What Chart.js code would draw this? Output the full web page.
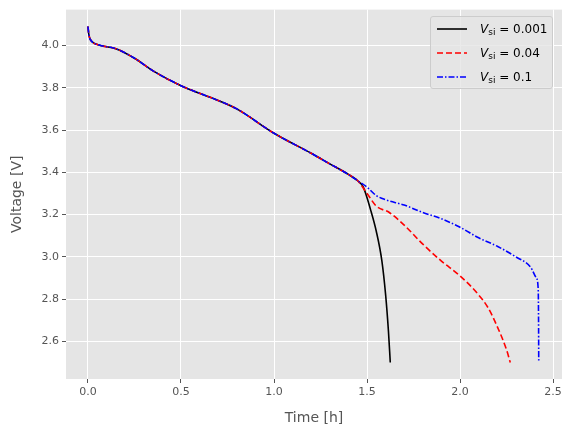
<!DOCTYPE html>
<html>
<head>
<meta charset="utf-8">
<script src="https://cdn.jsdelivr.net/npm/chart.js@4"></script>
<style>
  body { margin: 0; background: #fff; }
  #wrap { position: relative; width: 574px; height: 436px; }
  #legend {
    position: absolute; left: 430px; top: 16px; width: 123px; height: 73px;
    background: rgba(229,229,229,0.8); border: 1px solid #ccc; border-radius: 3px;
    font-family: "DejaVu Sans", sans-serif; font-size: 12px; color: #000; box-sizing: border-box;
  }
  .item { position: absolute; left: 6px; height: 20px; display: flex; align-items: center; }
  .item svg { margin-right: 13px; }
  sub { font-size: 9px; vertical-align: -2px; }
</style>
</head>
<body>
<div id="wrap">
  <canvas id="c" width="574" height="436"></canvas>
  <div id="legend">
    <div class="item" style="top:2px"><svg width="30" height="4"><line x1="0" y1="2" x2="30" y2="2" stroke="#000" stroke-width="1.6"/></svg><span><i>V</i><sub>si</sub> = 0.001</span></div>
    <div class="item" style="top:26px"><svg width="30" height="4"><line x1="0" y1="2" x2="30" y2="2" stroke="red" stroke-width="1.6" stroke-dasharray="6,3"/></svg><span><i>V</i><sub>si</sub> = 0.04</span></div>
    <div class="item" style="top:50px"><svg width="30" height="4"><line x1="0" y1="2" x2="30" y2="2" stroke="blue" stroke-width="1.6" stroke-dasharray="6,2,1.5,2"/></svg><span><i>V</i><sub>si</sub> = 0.1</span></div>
  </div>
</div>
<script>
// shared early part of discharge
const tCommon = [0, 0.005, 0.02, 0.05, 0.15, 0.25, 0.35, 0.5, 0.7, 0.8, 1.0, 1.2, 1.3, 1.4, 1.45];
const vCommon = [4.09, 4.05, 4.02, 4.005, 3.985, 3.94, 3.88, 3.81, 3.74, 3.70, 3.585, 3.49, 3.44, 3.39, 3.36];

const tBlack = [1.48, 1.52, 1.55, 1.58, 1.60, 1.615, 1.625];
const vBlack = [3.33, 3.22, 3.12, 2.98, 2.82, 2.65, 2.50];

const tRed = [1.5, 1.55, 1.62, 1.7, 1.8, 1.9, 2.0, 2.1, 2.15, 2.2, 2.25, 2.27];
const vRed = [3.30, 3.24, 3.21, 3.15, 3.06, 2.98, 2.91, 2.82, 2.76, 2.67, 2.56, 2.50];

const tBlue = [1.5, 1.55, 1.6, 1.7, 1.8, 1.9, 2.0, 2.1, 2.2, 2.3, 2.38, 2.41, 2.42, 2.422, 2.423];
const vBlue = [3.33, 3.29, 3.27, 3.245, 3.21, 3.18, 3.14, 3.09, 3.05, 3.00, 2.95, 2.90, 2.85, 2.70, 2.50];

const xTicks = [0, 0.5, 1.0, 1.5, 2.0, 2.5];
const yTicks = [2.6, 2.8, 3.0, 3.2, 3.4, 3.6, 3.8, 4.0];

function pts(t1, v1, t2, v2) {
    return t1.map((t, i) => ({ x: t, y: v1[i] })).concat(t2.map((t, i) => ({ x: t, y: v2[i] })));
}

const bgPlugin = {
    id: 'bg',
    beforeDraw(chart) {
        const a = chart.chartArea, ctx = chart.ctx;
        ctx.save();
        ctx.fillStyle = '#E5E5E5';
        ctx.fillRect(a.left, a.top, a.right - a.left, a.bottom - a.top);
        ctx.restore();
    }
};

const tickFont = { family: 'DejaVu Sans', size: 11 };
const titleFont = { family: 'DejaVu Sans', size: 14 };

new Chart(document.getElementById('c'), {
    type: 'scatter',
    data: {
        datasets: [
            { data: pts(tCommon, vCommon, tBlack, vBlack), borderColor: '#000', borderWidth: 1.6, order: 3 },
            { data: pts(tCommon, vCommon, tRed, vRed), borderColor: 'red', borderWidth: 1.6, borderDash: [6, 3], order: 2 },
            { data: pts(tCommon, vCommon, tBlue, vBlue), borderColor: 'blue', borderWidth: 1.6, borderDash: [6, 2, 1.5, 2], order: 1 }
        ].map(d => Object.assign(d, { showLine: true, pointRadius: 0, cubicInterpolationMode: 'monotone' }))
    },
    options: {
        responsive: false,
        animation: false,
        layout: { padding: { top: 9, right: 12, left: 9, bottom: 9 } },
        plugins: { legend: { display: false }, tooltip: { enabled: false } },
        scales: {
            x: {
                type: 'linear', min: -0.118, max: 2.548,
                afterBuildTicks: s => { s.ticks = xTicks.map(v => ({ value: v })); },
                afterFit: s => { s.height = 48; },
                grid: { color: '#fff', lineWidth: 1, drawTicks: true, tickColor: '#555', tickLength: 4 },
                border: { display: false },
                ticks: { color: '#555', font: tickFont, callback: v => v.toFixed(1), padding: 3 },
                title: { display: true, text: 'Time [h]', color: '#555', font: titleFont, padding: 0 }
            },
            y: {
                min: 2.422, max: 4.170,
                afterBuildTicks: s => { s.ticks = yTicks.map(v => ({ value: v })); },
                afterFit: s => { s.width = 57; },
                grid: { color: '#fff', lineWidth: 1, drawTicks: true, tickColor: '#555', tickLength: 4 },
                border: { display: false },
                ticks: { color: '#555', font: tickFont, callback: v => v.toFixed(1), padding: 3 },
                title: { display: true, text: 'Voltage [V]', color: '#555', font: titleFont, padding: 0 }
            }
        }
    },
    plugins: [bgPlugin]
});
</script>
</body>
</html>
